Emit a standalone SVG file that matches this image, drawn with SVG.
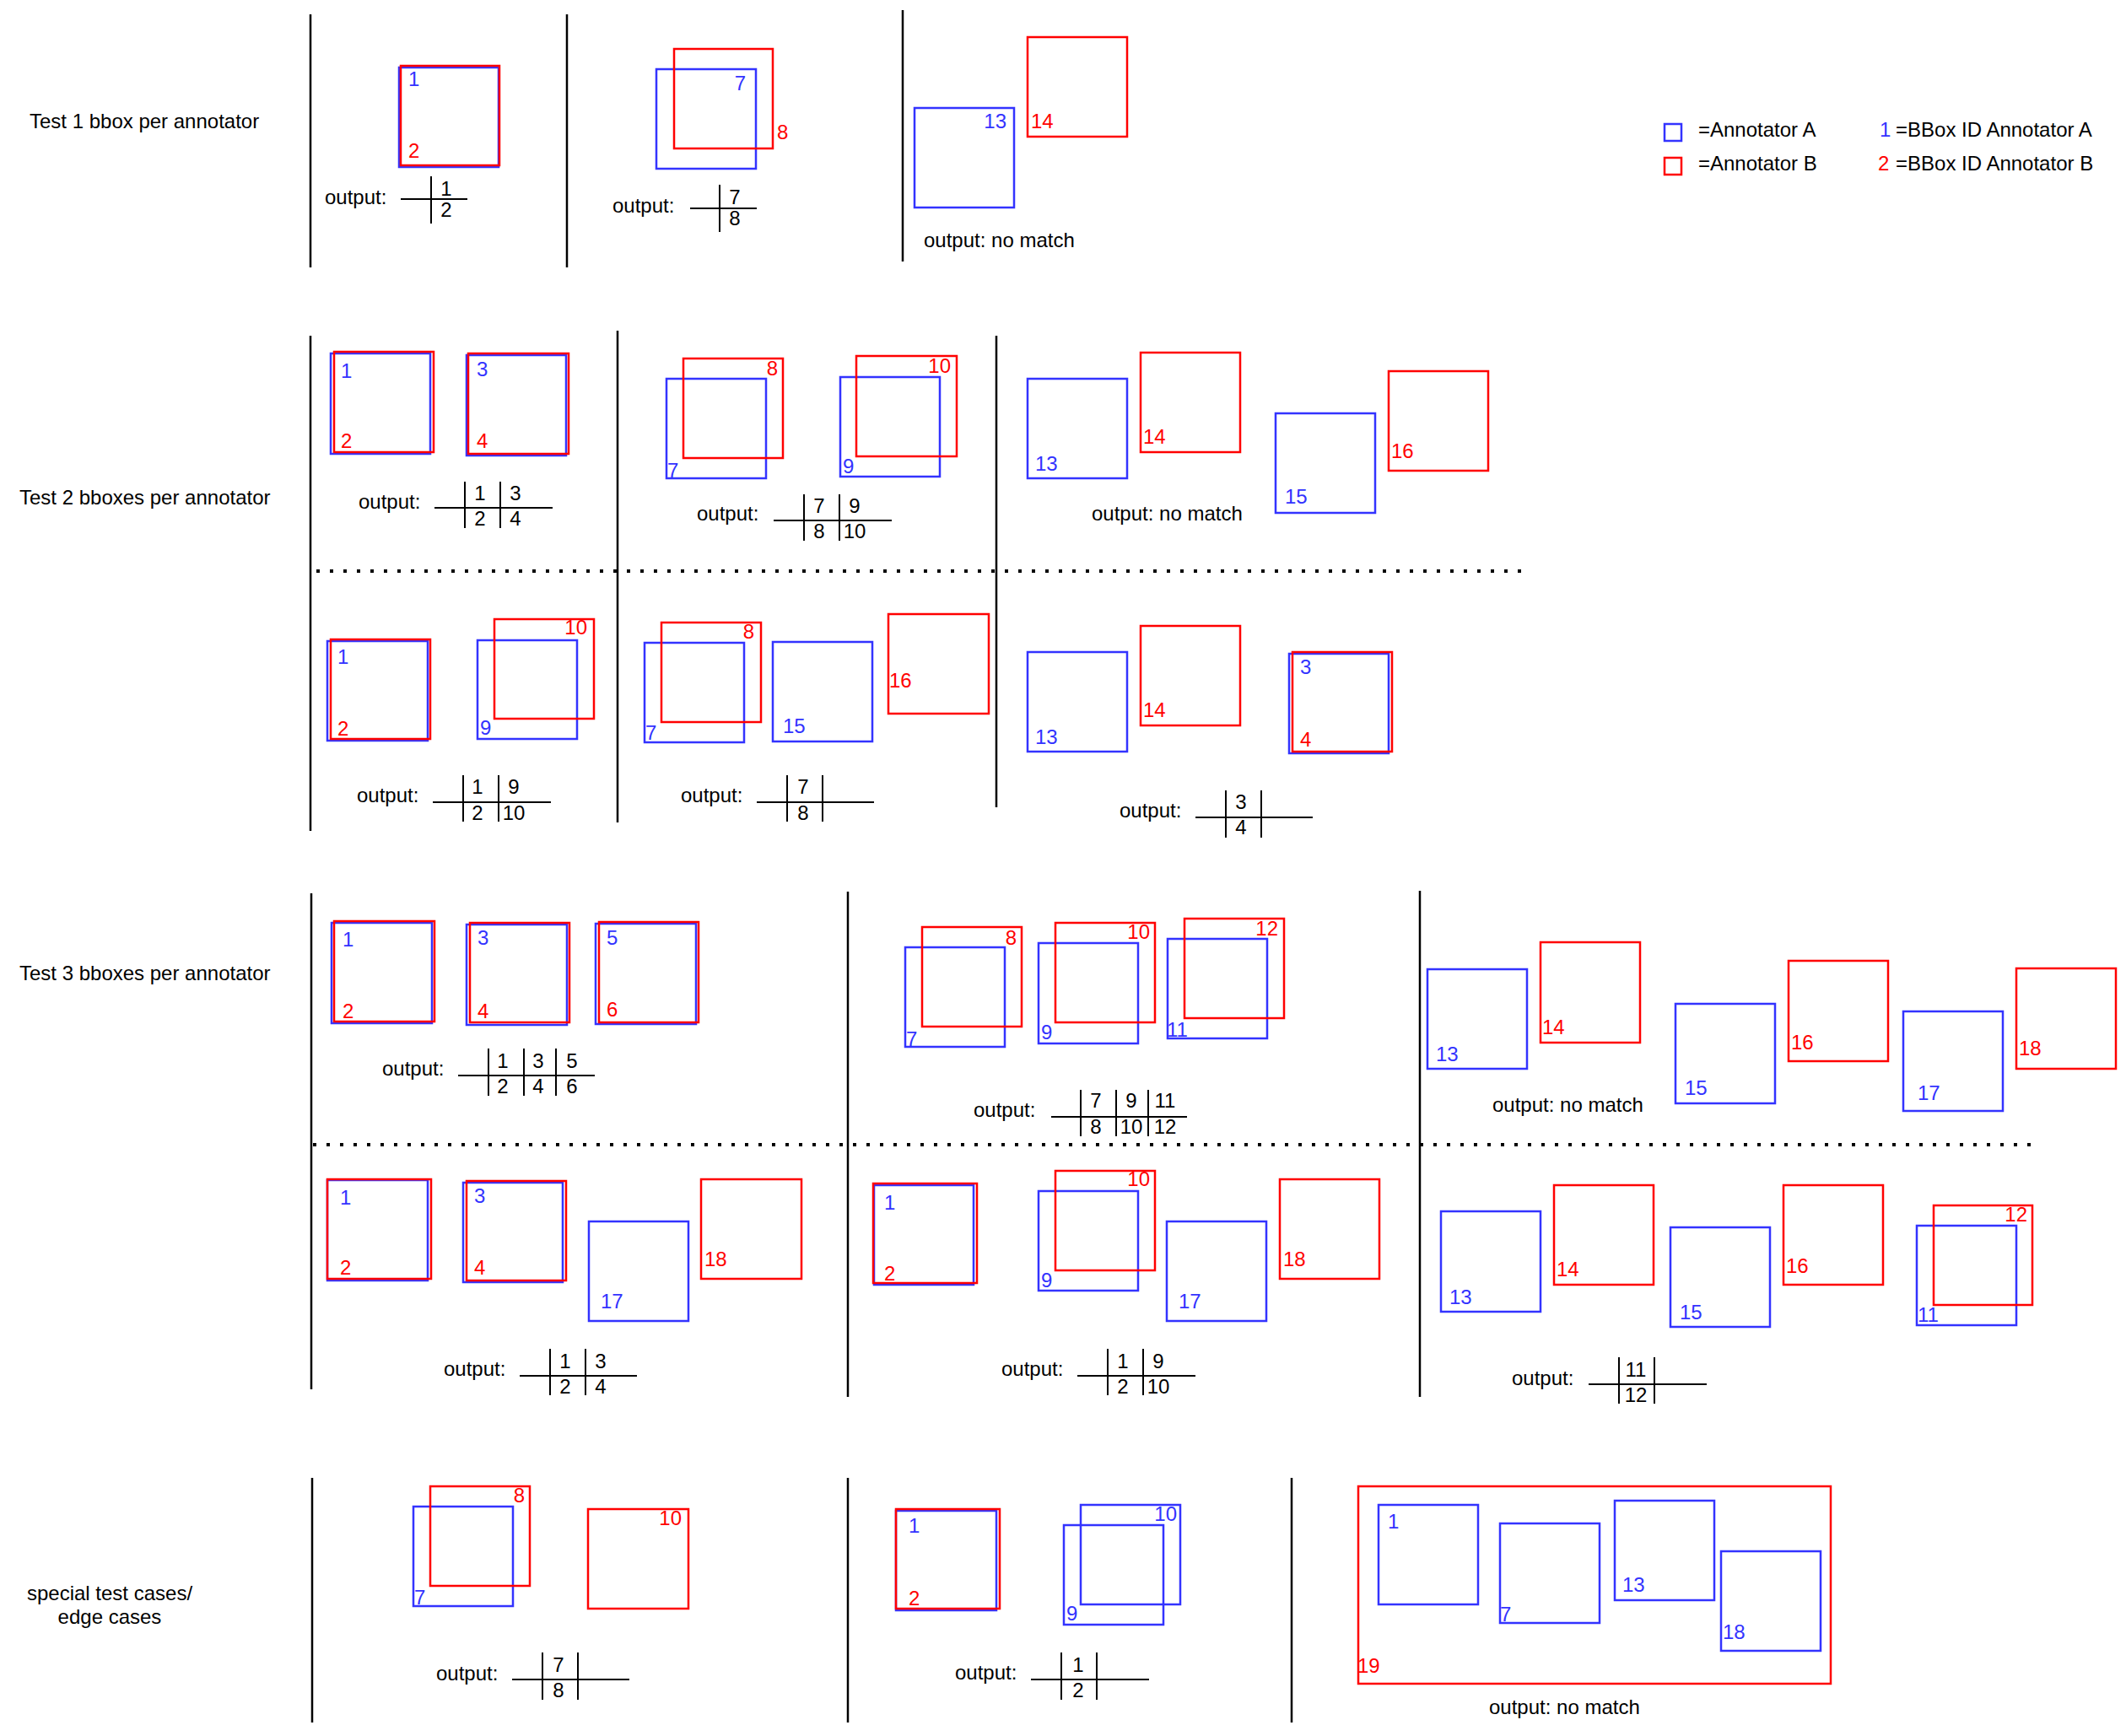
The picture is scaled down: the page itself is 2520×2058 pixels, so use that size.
<svg xmlns="http://www.w3.org/2000/svg" width="2520" height="2058" viewBox="0 0 2520 2058">
<style>
text{font-family:"Liberation Sans",Arial,Helvetica,sans-serif;font-size:24px;fill:#000}
.a{fill:none;stroke:#3333ff;stroke-width:2.5}
.b{fill:none;stroke:#ff0000;stroke-width:2.5}
text.ta{fill:#3333ff}
text.tb{fill:#ff0000}
.m{text-anchor:middle}
.e{text-anchor:end}
.sep{stroke:#000;stroke-width:2.5;fill:none}
.dot{stroke:#000;stroke-width:4;stroke-dasharray:4 12;fill:none}
.tl{stroke:#000;stroke-width:2;fill:none}
</style>
<rect width="2520" height="2058" fill="#fff"/>

<g id="separators">
<path class="sep" d="M368 17V317M672 17V317M1070 12V310"/>
<path class="sep" d="M368 398V985M732 392V975M1181 398V957"/>
<path class="dot" d="M375 677H1810"/>
<path class="sep" d="M369 1059V1647M1005 1057V1656M1683 1056V1656"/>
<path class="dot" d="M371 1357H2410"/>
<path class="sep" d="M370 1752V2042M1005 1752V2042M1531 1752V2042"/>
</g>

<g id="headings">
<text id="h1" x="35" y="152">Test 1 bbox per annotator</text>
<text id="h2" x="23" y="598">Test 2 bboxes per annotator</text>
<text id="h3" x="23" y="1162">Test 3 bboxes per annotator</text>
<text id="h4" class="m" x="130" y="1897">special test cases/</text>
<text id="h4b" class="m" x="130" y="1925">edge cases</text>
</g>

<g id="legend">
<rect class="a" x="1973" y="147" width="20" height="20"/>
<rect class="b" x="1973" y="187" width="20" height="20"/>
<text x="2013" y="162">=Annotator A</text>
<text x="2013" y="202">=Annotator B</text>
<text class="ta" x="2228" y="162">1</text>
<text x="2247" y="162">=BBox ID Annotator A</text>
<text class="tb" x="2226" y="202">2</text>
<text x="2247" y="202">=BBox ID Annotator B</text>
</g>

<!-- Section 1 -->
<g id="s1-c1">
<rect class="a" x="473" y="80" width="118" height="118"/>
<rect class="b" x="475" y="78" width="117" height="118"/>
<text class="ta" x="484" y="102">1</text>
<text class="tb" x="484" y="187">2</text>
</g>
<g id="s1-t1">
<path class="tl" d="M475 236H554M511 209V265"/>
<text x="385" y="242">output:</text>
<text class="m" x="529" y="232">1</text>
<text class="m" x="529" y="257">2</text>
</g>
<g id="s1-c2">
<rect class="a" x="778" y="82" width="118" height="118"/>
<rect class="b" x="799" y="58" width="117" height="118"/>
<text class="ta e" x="884" y="107">7</text>
<text class="tb" x="921" y="165">8</text>
</g>
<g id="s1-t2">
<path class="tl" d="M818 247H897M853 219V275"/>
<text x="726" y="252">output:</text>
<text class="m" x="871" y="242">7</text>
<text class="m" x="871" y="267">8</text>
</g>
<g id="s1-c3">
<rect class="a" x="1084" y="128" width="118" height="118"/>
<rect class="b" x="1218" y="44" width="118" height="118"/>
<text class="ta e" x="1193" y="152">13</text>
<text class="tb" x="1222" y="152">14</text>
<text x="1095" y="293">output: no match</text>
</g>

<!-- Section 2 top -->
<g id="s2-c1">
<rect class="a" x="392" y="419" width="118" height="119"/>
<rect class="b" x="396" y="417" width="118" height="119"/>
<text class="ta" x="404" y="448">1</text>
<text class="tb" x="404" y="531">2</text>
<rect class="a" x="553" y="421" width="118" height="119"/>
<rect class="b" x="555" y="419" width="119" height="119"/>
<text class="ta" x="565" y="446">3</text>
<text class="tb" x="565" y="531">4</text>
</g>
<g id="s2-t1">
<path class="tl" d="M515 602H655M551 571V626M593 571V626"/>
<text x="425" y="603">output:</text>
<text class="m" x="569" y="593">1</text>
<text class="m" x="611" y="593">3</text>
<text class="m" x="569" y="623">2</text>
<text class="m" x="611" y="623">4</text>
</g>
<g id="s2-c2">
<rect class="a" x="790" y="449" width="118" height="118"/>
<rect class="b" x="810" y="425" width="118" height="118"/>
<text class="ta" x="791" y="566">7</text>
<text class="tb e" x="922" y="445">8</text>
<rect class="a" x="996" y="447" width="118" height="118"/>
<rect class="b" x="1015" y="422" width="119" height="119"/>
<text class="ta" x="999" y="561">9</text>
<text class="tb e" x="1127" y="442">10</text>
</g>
<g id="s2-t2">
<path class="tl" d="M917 617H1057M953 586V641M995 586V641"/>
<text x="826" y="617">output:</text>
<text class="m" x="971" y="608">7</text>
<text class="m" x="1013" y="608">9</text>
<text class="m" x="971" y="638">8</text>
<text class="m" x="1013" y="638">10</text>
</g>
<g id="s2-c3">
<rect class="a" x="1218" y="449" width="118" height="118"/>
<rect class="b" x="1352" y="418" width="118" height="118"/>
<text class="ta" x="1227" y="558">13</text>
<text class="tb" x="1355" y="526">14</text>
<rect class="a" x="1512" y="490" width="118" height="118"/>
<rect class="b" x="1646" y="440" width="118" height="118"/>
<text class="ta" x="1523" y="597">15</text>
<text class="tb" x="1649" y="543">16</text>
<text x="1294" y="617">output: no match</text>
</g>

<!-- Section 2 bottom -->
<g id="s2-c4">
<rect class="a" x="388" y="760" width="119" height="118"/>
<rect class="b" x="392" y="758" width="118" height="118"/>
<text class="ta" x="400" y="787">1</text>
<text class="tb" x="400" y="872">2</text>
<rect class="a" x="566" y="759" width="118" height="117"/>
<rect class="b" x="586" y="734" width="118" height="118"/>
<text class="ta" x="569" y="871">9</text>
<text class="tb e" x="696" y="752">10</text>
</g>
<g id="s2-t4">
<path class="tl" d="M513 951H653M549 919V974M591 919V974"/>
<text x="423" y="951">output:</text>
<text class="m" x="566" y="941">1</text>
<text class="m" x="609" y="941">9</text>
<text class="m" x="566" y="972">2</text>
<text class="m" x="609" y="972">10</text>
</g>
<g id="s2-c5">
<rect class="a" x="764" y="762" width="118" height="118"/>
<rect class="b" x="784" y="738" width="118" height="118"/>
<text class="ta" x="765" y="877">7</text>
<text class="tb e" x="894" y="757">8</text>
<rect class="a" x="916" y="761" width="118" height="118"/>
<text class="ta" x="928" y="869">15</text>
<rect class="b" x="1053" y="728" width="119" height="118"/>
<text class="tb" x="1054" y="815">16</text>
</g>
<g id="s2-t5">
<path class="tl" d="M897 951H1036M933 919V974M975 919V974"/>
<text x="807" y="951">output:</text>
<text class="m" x="952" y="941">7</text>
<text class="m" x="952" y="972">8</text>
</g>
<g id="s2-c6">
<rect class="a" x="1218" y="773" width="118" height="118"/>
<rect class="b" x="1352" y="742" width="118" height="118"/>
<text class="ta" x="1227" y="882">13</text>
<text class="tb" x="1355" y="850">14</text>
<rect class="a" x="1528" y="775" width="118" height="118"/>
<rect class="b" x="1532" y="773" width="118" height="118"/>
<text class="ta" x="1541" y="799">3</text>
<text class="tb" x="1541" y="885">4</text>
</g>
<g id="s2-t6">
<path class="tl" d="M1417 969H1556M1453 937V993M1495 937V993"/>
<text x="1327" y="969">output:</text>
<text class="m" x="1471" y="959">3</text>
<text class="m" x="1471" y="989">4</text>
</g>

<!-- Section 3 top -->
<g id="s3-c1">
<rect class="a" x="393" y="1094" width="119" height="119"/>
<rect class="b" x="396" y="1092" width="119" height="119"/>
<text class="ta" x="406" y="1122">1</text>
<text class="tb" x="406" y="1207">2</text>
<rect class="a" x="553" y="1096" width="119" height="119"/>
<rect class="b" x="557" y="1094" width="118" height="118"/>
<text class="ta" x="566" y="1120">3</text>
<text class="tb" x="566" y="1207">4</text>
<rect class="a" x="706" y="1095" width="119" height="119"/>
<rect class="b" x="710" y="1093" width="118" height="119"/>
<text class="ta" x="719" y="1120">5</text>
<text class="tb" x="719" y="1205">6</text>
</g>
<g id="s3-t1">
<path class="tl" d="M543 1275H705M579 1243V1299M621 1243V1299M659 1243V1299"/>
<text x="453" y="1275">output:</text>
<text class="m" x="596" y="1266">1</text>
<text class="m" x="638" y="1266">3</text>
<text class="m" x="678" y="1266">5</text>
<text class="m" x="596" y="1296">2</text>
<text class="m" x="638" y="1296">4</text>
<text class="m" x="678" y="1296">6</text>
</g>
<g id="s3-c2">
<rect class="a" x="1073" y="1123" width="118" height="118"/>
<rect class="b" x="1093" y="1099" width="118" height="118"/>
<text class="ta" x="1074" y="1240">7</text>
<text class="tb e" x="1205" y="1120">8</text>
<rect class="a" x="1231" y="1118" width="118" height="119"/>
<rect class="b" x="1251" y="1094" width="118" height="118"/>
<text class="ta" x="1234" y="1232">9</text>
<text class="tb e" x="1363" y="1113">10</text>
<rect class="a" x="1384" y="1113" width="118" height="118"/>
<rect class="b" x="1404" y="1089" width="118" height="118"/>
<text class="ta" x="1383" y="1229">11</text>
<text class="tb e" x="1515" y="1109">12</text>
</g>
<g id="s3-t2">
<path class="tl" d="M1246 1324H1407M1281 1292V1347M1323 1292V1347M1361 1292V1347"/>
<text x="1154" y="1324">output:</text>
<text class="m" x="1299" y="1313">7</text>
<text class="m" x="1341" y="1313">9</text>
<text class="m" x="1381" y="1313">11</text>
<text class="m" x="1299" y="1344">8</text>
<text class="m" x="1341" y="1344">10</text>
<text class="m" x="1381" y="1344">12</text>
</g>
<g id="s3-c3">
<rect class="a" x="1692" y="1149" width="118" height="118"/>
<rect class="b" x="1826" y="1117" width="118" height="119"/>
<text class="ta" x="1702" y="1258">13</text>
<text class="tb" x="1828" y="1226">14</text>
<rect class="a" x="1986" y="1190" width="118" height="118"/>
<rect class="b" x="2120" y="1139" width="118" height="119"/>
<text class="ta" x="1997" y="1298">15</text>
<text class="tb" x="2123" y="1244">16</text>
<rect class="a" x="2256" y="1199" width="118" height="118"/>
<rect class="b" x="2390" y="1148" width="118" height="119"/>
<text class="ta" x="2273" y="1304">17</text>
<text class="tb" x="2393" y="1251">18</text>
<text x="1769" y="1318">output: no match</text>
</g>

<!-- Section 3 bottom -->
<g id="s3-c4">
<rect class="a" x="388" y="1399" width="119" height="119"/>
<rect class="b" x="388" y="1398" width="123" height="118"/>
<text class="ta" x="403" y="1428">1</text>
<text class="tb" x="403" y="1511">2</text>
<rect class="a" x="549" y="1402" width="118" height="118"/>
<rect class="b" x="553" y="1400" width="118" height="118"/>
<text class="ta" x="562" y="1426">3</text>
<text class="tb" x="562" y="1511">4</text>
<rect class="a" x="698" y="1448" width="118" height="118"/>
<text class="ta" x="712" y="1551">17</text>
<rect class="b" x="831" y="1398" width="119" height="118"/>
<text class="tb" x="835" y="1501">18</text>
</g>
<g id="s3-t4">
<path class="tl" d="M616 1631H755M652 1599V1654M694 1599V1654"/>
<text x="526" y="1631">output:</text>
<text class="m" x="670" y="1622">1</text>
<text class="m" x="712" y="1622">3</text>
<text class="m" x="670" y="1652">2</text>
<text class="m" x="712" y="1652">4</text>
</g>
<g id="s3-c5">
<rect class="a" x="1036" y="1405" width="118" height="118"/>
<rect class="b" x="1035" y="1403" width="123" height="118"/>
<text class="ta" x="1048" y="1434">1</text>
<text class="tb" x="1048" y="1518">2</text>
<rect class="a" x="1231" y="1412" width="118" height="118"/>
<rect class="b" x="1251" y="1388" width="118" height="118"/>
<text class="ta" x="1234" y="1526">9</text>
<text class="tb e" x="1363" y="1406">10</text>
<rect class="a" x="1383" y="1448" width="118" height="118"/>
<text class="ta" x="1397" y="1551">17</text>
<rect class="b" x="1517" y="1398" width="118" height="118"/>
<text class="tb" x="1521" y="1501">18</text>
</g>
<g id="s3-t5">
<path class="tl" d="M1277 1631H1417M1313 1599V1654M1355 1599V1654"/>
<text x="1187" y="1631">output:</text>
<text class="m" x="1331" y="1622">1</text>
<text class="m" x="1373" y="1622">9</text>
<text class="m" x="1331" y="1652">2</text>
<text class="m" x="1373" y="1652">10</text>
</g>
<g id="s3-c6">
<rect class="a" x="1708" y="1436" width="118" height="119"/>
<rect class="b" x="1842" y="1405" width="118" height="118"/>
<text class="ta" x="1718" y="1546">13</text>
<text class="tb" x="1845" y="1513">14</text>
<rect class="a" x="1980" y="1455" width="118" height="118"/>
<rect class="b" x="2114" y="1405" width="118" height="118"/>
<text class="ta" x="1991" y="1564">15</text>
<text class="tb" x="2117" y="1509">16</text>
<rect class="a" x="2272" y="1453" width="118" height="118"/>
<rect class="b" x="2292" y="1429" width="117" height="118"/>
<text class="ta" x="2273" y="1567">11</text>
<text class="tb e" x="2403" y="1448">12</text>
</g>
<g id="s3-t6">
<path class="tl" d="M1883 1641H2023M1919 1609V1664M1961 1609V1664"/>
<text x="1792" y="1642">output:</text>
<text class="m" x="1939" y="1632">11</text>
<text class="m" x="1939" y="1662">12</text>
</g>

<!-- Section 4 -->
<g id="s4-c1">
<rect class="a" x="490" y="1786" width="118" height="118"/>
<rect class="b" x="510" y="1762" width="118" height="118"/>
<text class="ta" x="491" y="1902">7</text>
<text class="tb e" x="622" y="1781">8</text>
<rect class="b" x="697" y="1789" width="119" height="118"/>
<text class="tb e" x="808" y="1808">10</text>
</g>
<g id="s4-t1">
<path class="tl" d="M607 1991H746M643 1959V2015M685 1959V2015"/>
<text x="517" y="1992">output:</text>
<text class="m" x="662" y="1982">7</text>
<text class="m" x="662" y="2012">8</text>
</g>
<g id="s4-c2">
<rect class="a" x="1062" y="1791" width="119" height="118"/>
<rect class="b" x="1062" y="1789" width="123" height="118"/>
<text class="ta" x="1077" y="1817">1</text>
<text class="tb" x="1077" y="1903">2</text>
<rect class="a" x="1261" y="1808" width="118" height="118"/>
<rect class="a" x="1281" y="1784" width="118" height="118"/>
<text class="ta" x="1264" y="1921">9</text>
<text class="ta e" x="1395" y="1803">10</text>
</g>
<g id="s4-t2">
<path class="tl" d="M1222 1991H1362M1258 1959V2015M1300 1959V2015"/>
<text x="1132" y="1991">output:</text>
<text class="m" x="1278" y="1982">1</text>
<text class="m" x="1278" y="2012">2</text>
</g>
<g id="s4-c3">
<rect class="b" x="1610" y="1762" width="560" height="234"/>
<text class="tb" x="1609" y="1983">19</text>
<rect class="a" x="1634" y="1784" width="118" height="118"/>
<text class="ta" x="1645" y="1812">1</text>
<rect class="a" x="1778" y="1806" width="118" height="118"/>
<text class="ta" x="1778" y="1922">7</text>
<rect class="a" x="1914" y="1779" width="118" height="118"/>
<text class="ta" x="1923" y="1887">13</text>
<rect class="a" x="2040" y="1839" width="118" height="118"/>
<text class="ta" x="2042" y="1943">18</text>
<text x="1765" y="2032">output: no match</text>
</g>
</svg>
